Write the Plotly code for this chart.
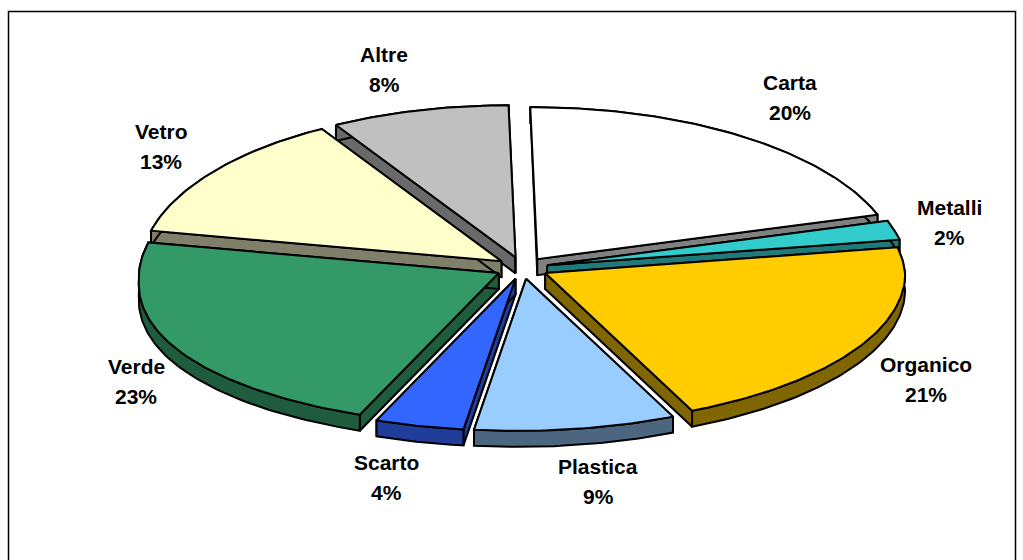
import math
import plotly.graph_objects as go

categories = ["Carta", "Metalli", "Organico", "Plastica", "Scarto", "Verde", "Vetro", "Altre"]
percent = [20, 2, 21, 9, 4, 23, 13, 8]
top_colors = ["#FFFFFF", "#33CCCC", "#FFCC00", "#99CCFF", "#3366FF", "#339966", "#FFFFCC", "#C0C0C0"]
side_colors = ["#808080", "#1F7A7A", "#806600", "#4D6680", "#1F3D99", "#1F5C3D", "#80806A", "#696969"]
label_x = [790, 949, 926, 598, 386, 136, 161, 384]
label_y = [82, 207, 364, 466, 462, 366, 131, 54]

CX, CY = 522, 268
RX, RY = 360, 152
EXPLODE = 26
SQUASH = RY / RX
DEPTH = 16
SKEW = 7
DROP_LEFT, DROP_RIGHT = 8, 3
BORDER = "#000000"

fig = go.Figure()


def ell(a, ox, oy, dz=0):
    s, c = math.sin(a), math.cos(a)
    x = ox + RX * s - SKEW * abs(c)
    y = oy - RY * c + dz + DROP_LEFT * max(0.0, -s) ** 3 + DROP_RIGHT * max(0.0, s) ** 3
    return x, y


def poly(pts, fill, width=2):
    xs = [p[0] for p in pts] + [pts[0][0]]
    ys = [p[1] for p in pts] + [pts[0][1]]
    fig.add_trace(go.Scatter(x=xs, y=ys, mode="lines", fill="toself", fillcolor=fill,
                             line=dict(color=BORDER, width=width), hoverinfo="skip",
                             showlegend=False))


total = sum(percent)
slices = []
cum = 0
for i, v in enumerate(percent):
    a0 = cum / total * 2 * math.pi
    cum += v
    a1 = cum / total * 2 * math.pi
    mid = (a0 + a1) / 2
    ox = CX + EXPLODE * math.sin(mid)
    oy = CY - EXPLODE * SQUASH * math.cos(mid)
    slices.append((i, a0, a1, mid, ox, oy))

# paint from the back of the pie to the front
for i, a0, a1, mid, ox, oy in sorted(slices, key=lambda s: -math.cos(s[3])):
    n = max(8, int((a1 - a0) * 60))
    angs = [a0 + (a1 - a0) * k / n for k in range(n + 1)]
    # radial walls
    for a in (a0, a1):
        e = ell(a, ox, oy)
        poly([(ox, oy), e, (e[0], e[1] + DEPTH), (ox, oy + DEPTH)], side_colors[i])
    # rim
    rim_top = [ell(a, ox, oy) for a in angs]
    rim_bot = [ell(a, ox, oy, DEPTH) for a in reversed(angs)]
    poly(rim_top + rim_bot, side_colors[i])
    # top face
    poly([(ox, oy)] + rim_top, top_colors[i])

annotations = []
for name, v, x, y in zip(categories, percent, label_x, label_y):
    annotations.append(dict(x=x, y=y, text=name, showarrow=False, xanchor="center", yanchor="middle",
                            font=dict(family="Liberation Sans", size=21, color="#000000", weight="bold")))
    annotations.append(dict(x=x, y=y + 30, text=f"{v}%", showarrow=False, xanchor="center", yanchor="middle",
                            font=dict(family="Liberation Sans", size=21, color="#000000", weight="bold")))

fig.update_layout(
    width=1023, height=560, margin=dict(l=0, r=0, t=0, b=0, pad=0),
    paper_bgcolor="#FFFFFF", plot_bgcolor="#FFFFFF", showlegend=False,
    xaxis=dict(range=[0, 1023], visible=False, fixedrange=True),
    yaxis=dict(range=[560, 0], visible=False, fixedrange=True),
    annotations=annotations,
    shapes=[dict(type="rect", xref="x", yref="y", x0=8.5, y0=11.5, x1=1015.5, y1=600,
                 line=dict(color="#000000", width=1.5), fillcolor="rgba(0,0,0,0)", layer="below")],
)
fig.write_html("out.html", config=dict(displayModeBar=False),
               post_script="document.documentElement.style.overflow='hidden';document.body.style.margin='0';")
